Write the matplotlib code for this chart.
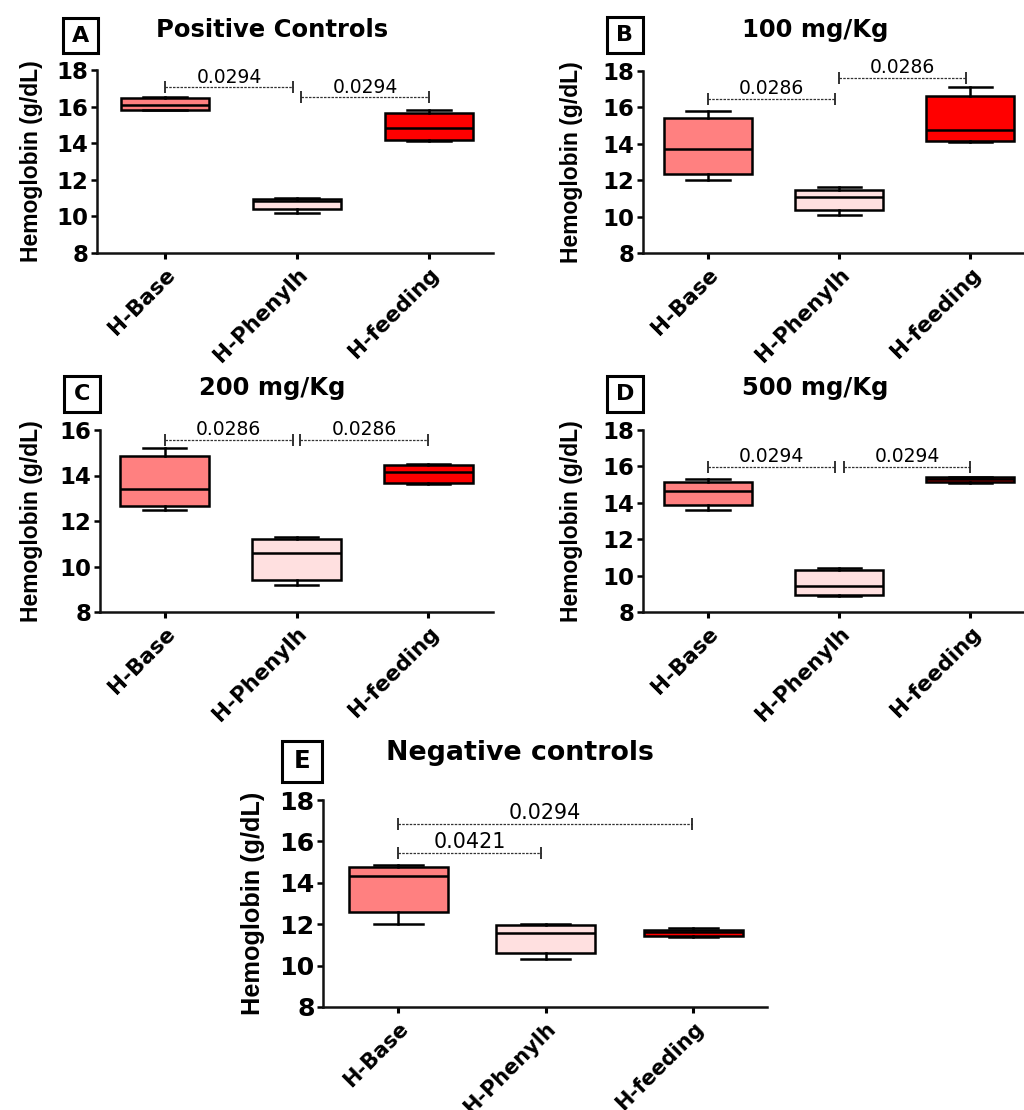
import matplotlib
matplotlib.use('Agg')
import matplotlib.pyplot as plt
from matplotlib import font_manager
from matplotlib.patches import Rectangle

W, H, DPI = 1024, 1110, 100

categories = ['H-Base', 'H-Phenylh', 'H-feeding']
box_colors = ['#FF8080', '#FFE0E0', '#FF0000']

# five-number summaries per group: (whisker low, q1, median, q3, whisker high)
pos_ctrl = [(15.80, 15.84, 16.10, 16.45, 16.52),
            (10.20, 10.38, 10.82, 10.93, 11.00),
            (14.12, 14.20, 14.82, 15.64, 15.80)]
dose100 = [(12.00, 12.33, 13.74, 15.42, 15.80),
           (10.10, 10.34, 11.05, 11.47, 11.62),
           (14.10, 14.16, 14.75, 16.63, 17.10)]
dose200 = [(12.50, 12.64, 13.42, 14.85, 15.19),
           (9.20, 9.42, 10.60, 11.23, 11.30),
           (13.62, 13.68, 14.15, 14.47, 14.50)]
dose500 = [(13.63, 13.87, 14.65, 15.15, 15.33),
           (8.90, 8.91, 9.43, 10.29, 10.41),
           (15.11, 15.17, 15.29, 15.40, 15.42)]
neg_ctrl = [(12.03, 12.58, 14.34, 14.74, 14.84),
            (10.31, 10.60, 11.58, 11.94, 12.03),
            (11.40, 11.42, 11.61, 11.73, 11.82)]

# p-value brackets: (x start, x end, y, label)
brackets_A = [(0, 0.97, 17.05, '0.0294'), (1.03, 2.0, 16.50, '0.0294')]
brackets_B = [(0, 0.97, 16.46, '0.0286'), (1.0, 1.97, 17.63, '0.0286')]
brackets_C = [(0, 0.97, 15.56, '0.0286'), (1.03, 2.0, 15.56, '0.0286')]
brackets_D = [(0, 0.97, 15.99, '0.0294'), (1.04, 2.0, 15.99, '0.0294')]
brackets_E = [(0, 0.97, 15.45, '0.0421'), (0, 1.99, 16.84, '0.0294')]

titles = ['Positive Controls', '100 mg/Kg', '200 mg/Kg', '500 mg/Kg', 'Negative controls']
letters = ['A', 'B', 'C', 'D', 'E']
yticks_full = [8, 10, 12, 14, 16, 18]
yticks_c = [8, 10, 12, 14, 16]
ylabel = 'Hemoglobin (g/dL)'


def font_available(name):
    try:
        font_manager.findfont(font_manager.FontProperties(family=name),
                              fallback_to_default=False)
        return True
    except Exception:
        return False


NARROW = 'Liberation Sans Narrow' if font_available('Liberation Sans Narrow') else None

panels = [
    dict(data=pos_ctrl, br=brackets_A, rect=(97, 70, 493, 253), xlim=(-0.515, 2.485),
         yticks=yticks_full, title_xy=(272, 37), box=(63, 18, 98, 53), lab_x=43,
         s=1.0, xs=15.5),
    dict(data=dose100, br=brackets_B, rect=(643, 71, 1024, 253), xlim=(-0.496, 2.41),
         yticks=yticks_full, title_xy=(815, 37), box=(607, 17, 643, 53), lab_x=583,
         s=1.0, xs=15.5),
    dict(data=dose200, br=brackets_C, rect=(100, 430, 493, 612), xlim=(-0.49, 2.49),
         yticks=yticks_c, title_xy=(272, 395), box=(64, 376, 100, 412), lab_x=43,
         s=1.0, xs=15.5),
    dict(data=dose500, br=brackets_D, rect=(643, 430, 1024, 612), xlim=(-0.496, 2.41),
         yticks=yticks_full, title_xy=(815, 395), box=(607, 376, 643, 412), lab_x=583,
         s=1.0, xs=15.5),
    dict(data=neg_ctrl, br=brackets_E, rect=(323, 800, 767, 1007), xlim=(-0.51, 2.5),
         yticks=yticks_full, title_xy=(520, 760), box=(282, 741, 322, 782), lab_x=265,
         s=1.1, xs=15.0),
]

fig = plt.figure(figsize=(W / DPI, H / DPI), dpi=DPI)

for i, p in enumerate(panels):
    l, t, r, b = p['rect']
    ax = fig.add_axes([l / W, 1 - b / H, (r - l) / W, (b - t) / H])
    s = p['s']
    stats = [dict(whislo=v[0], q1=v[1], med=v[2], q3=v[3], whishi=v[4], fliers=[], label=c)
             for v, c in zip(p['data'], categories)]
    bp = ax.bxp(stats, positions=[0, 1, 2], widths=0.67, capwidths=0.33,
                patch_artist=True, showfliers=False,
                boxprops=dict(linewidth=1.8, edgecolor='black'),
                medianprops=dict(color='black', linewidth=1.8),
                whiskerprops=dict(color='black', linewidth=1.8),
                capprops=dict(color='black', linewidth=1.8))
    for patch, col in zip(bp['boxes'], box_colors):
        patch.set_facecolor(col)

    for x0, x1, y, lab in p['br']:
        ax.plot([x0, x1], [y, y], color='#333333', lw=0.9, ls=(0, (2, 1)), clip_on=False)
        ax.plot([x0, x1], [y, y], ls='none', marker='|', ms=8, mew=1.3,
                color='#222222', clip_on=False)
        ax.annotate(lab, xy=((x0 + x1) / 2, y), xytext=(0, 3.5), textcoords='offset points',
                    ha='center', va='baseline', fontsize=13.5 * s, family='DejaVu Sans',
                    annotation_clip=False)

    ax.set_xlim(*p['xlim'])
    ax.set_ylim(p['yticks'][0], p['yticks'][-1])
    ax.set_yticks(p['yticks'], labels=[str(v) for v in p['yticks']],
                  fontsize=16.5 * s, fontweight='bold', family='DejaVu Sans')
    ax.set_xticks([0, 1, 2], labels=categories, rotation=45, ha='right',
                  rotation_mode='anchor', fontsize=p['xs'], fontweight='bold',
                  family='DejaVu Sans')
    ax.tick_params(axis='y', length=4, width=1.8, pad=2)
    ax.tick_params(axis='x', length=4, width=2.2, pad=4)
    for sp in ['top', 'right']:
        ax.spines[sp].set_visible(False)
    for sp in ['left', 'bottom']:
        ax.spines[sp].set_linewidth(1.8)
        ax.spines[sp].set_color('#111111')

    if NARROW:
        ax.set_ylabel(ylabel, fontsize=19.5 * s, fontweight='bold', family=NARROW)
    else:
        ax.set_ylabel(ylabel, fontsize=16.5 * s, fontweight='bold', family='Liberation Sans')
    ax.yaxis.set_label_coords((p['lab_x'] - l) / (r - l), 0.5)

    tx, ty = p['title_xy']
    fig.text(tx / W, 1 - ty / H, titles[i], ha='center', va='baseline',
             fontsize=17.5 * s, fontweight='bold', family='DejaVu Sans')

    x0, y0, x1, y1 = p['box']
    fig.add_artist(Rectangle((x0 / W, 1 - y1 / H), (x1 - x0) / W, (y1 - y0) / H,
                             transform=fig.transFigure, fill=False, lw=2.2,
                             edgecolor='black'))
    fig.text((x0 + x1) / 2 / W, 1 - (y0 + y1) / 2 / H, letters[i], ha='center',
             va='center', fontsize=16 * s, fontweight='bold', family='DejaVu Sans')

fig.savefig('out.png', dpi=DPI)
